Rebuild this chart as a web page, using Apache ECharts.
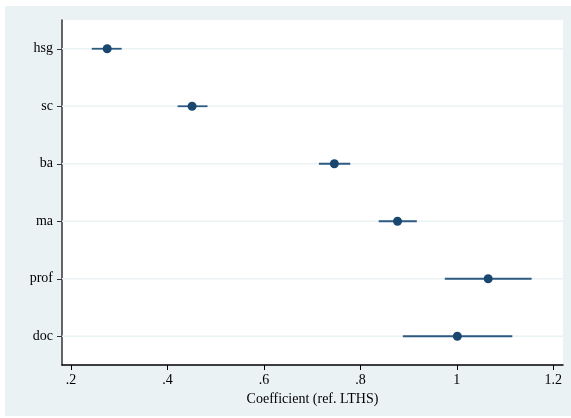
<!DOCTYPE html>
<html>
<head>
<meta charset="utf-8">
<script src="https://cdn.jsdelivr.net/npm/echarts@6/dist/echarts.min.js"></script>
<style>
  html, body { margin: 0; padding: 0; background: #ffffff; }
  #bg { position: absolute; left: 5px; top: 6px; width: 566px; height: 410px; background: #eaf2f3; }
  #chart { position: absolute; left: 0; top: 0; width: 571px; height: 418px; }
</style>
</head>
<body>
<div id="bg"></div>
<div id="chart"></div>
<script>
const categories = ['hsg', 'sc', 'ba', 'ma', 'prof', 'doc'];
const coef  = [0.275, 0.451, 0.746, 0.877, 1.065, 1.001];
const lower = [0.243, 0.421, 0.714, 0.838, 0.975, 0.888];
const upper = [0.305, 0.483, 0.779, 0.917, 1.155, 1.115];
const xTicks = [0.2, 0.4, 0.6, 0.8, 1.0, 1.2];
const xTickLabels = ['.2', '.4', '.6', '.8', '1', '1.2'];
const xTitle = 'Coefficient (ref. LTHS)';

const navy = '#1a476f';
const font = 'Liberation Serif';

const chart = echarts.init(document.getElementById('chart'), null, { renderer: 'canvas' });
chart.setOption({
  backgroundColor: 'transparent',
  animation: false,
  grid: {
    left: 62, right: 8, top: 20, bottom: 53,
    show: true, backgroundColor: '#ffffff', borderWidth: 0
  },
  xAxis: {
    type: 'value',
    min: 0.1813, max: 1.2201,
    name: xTitle,
    nameLocation: 'middle',
    nameGap: 26,
    nameTextStyle: { fontFamily: font, fontSize: 14, color: '#000' },
    axisLine: { show: true, lineStyle: { color: '#000', width: 1.5 } },
    axisTick: { show: true, length: 5, customValues: xTicks, lineStyle: { color: '#000', width: 1 } },
    axisLabel: {
      customValues: xTicks,
      margin: 8,
      fontFamily: font, fontSize: 14, color: '#000',
      formatter: v => { const i = xTicks.findIndex(t => Math.abs(t - v) < 1e-6); return i >= 0 ? xTickLabels[i] : ''; }
    },
    splitLine: { show: false }
  },
  yAxis: {
    type: 'category',
    data: categories,
    inverse: true,
    boundaryGap: true,
    axisLine: { show: true, lineStyle: { color: '#333', width: 1.5 } },
    axisTick: { show: true, alignWithLabel: true, length: 5, lineStyle: { color: '#333', width: 1 } },
    axisLabel: { margin: 9, fontFamily: font, fontSize: 14, color: '#000', verticalAlign: 'middle', lineHeight: 14, padding: [2, 0, 0, 0] },
    splitLine: { show: false }
  },
  series: [
    {
      type: 'custom',
      data: categories.map((c, i) => [i, coef[i], lower[i], upper[i]]),
      encode: { x: [1, 2, 3], y: 0 },
      silent: true,
      z: 1,
      renderItem: function (params, api) {
        const idx = api.value(0);
        const ys = api.coord([0.5, idx]);
        const gridLine = {
          type: 'line',
          shape: { x1: params.coordSys.x, y1: ys[1], x2: params.coordSys.x + params.coordSys.width, y2: ys[1] },
          style: { stroke: '#eaf2f3', lineWidth: 1.5 }
        };
        const p1 = api.coord([api.value(2), idx]);
        const p2 = api.coord([api.value(3), idx]);
        const ci = {
          type: 'line',
          shape: { x1: p1[0], y1: p1[1], x2: p2[0], y2: p2[1] },
          style: { stroke: '#2d5a80', lineWidth: 1.8 }
        };
        return { type: 'group', children: [gridLine, ci] };
      }
    },
    {
      type: 'scatter',
      data: categories.map((c, i) => [coef[i], i]),
      symbol: 'circle',
      symbolSize: 9,
      itemStyle: { color: navy, opacity: 1 },
      z: 3
    }
  ]
});
</script>
</body>
</html>
